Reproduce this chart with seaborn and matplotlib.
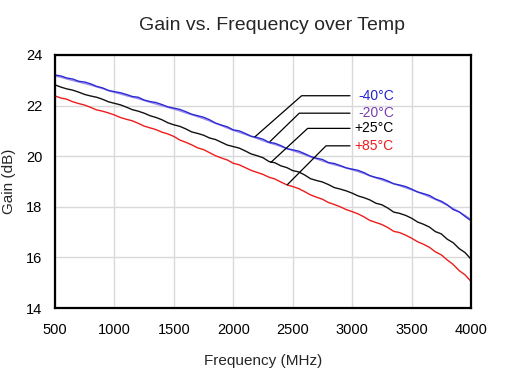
import numpy as np
import pandas as pd
import matplotlib
matplotlib.use("Agg")
import matplotlib.pyplot as plt
import seaborn as sns

freq = [500, 550, 600, 650, 700, 750, 800, 850, 900, 950,
        1000, 1050, 1100, 1150, 1200, 1250, 1300, 1350, 1400, 1450,
        1500, 1550, 1600, 1650, 1700, 1750, 1800, 1850, 1900, 1950,
        2000, 2050, 2100, 2150, 2200, 2250, 2300, 2350, 2400, 2450,
        2500, 2550, 2600, 2650, 2700, 2750, 2800, 2850, 2900, 2950,
        3000, 3050, 3100, 3150, 3200, 3250, 3300, 3350, 3400, 3450,
        3500, 3550, 3600, 3650, 3700, 3750, 3800, 3850, 3900, 3950, 4000]

gain_m40 = [23.21, 23.17, 23.09, 23.05, 22.96, 22.93, 22.86, 22.76, 22.70, 22.60,
            22.55, 22.51, 22.44, 22.36, 22.33, 22.22, 22.16, 22.12, 22.04, 21.95,
            21.90, 21.85, 21.76, 21.66, 21.60, 21.54, 21.44, 21.31, 21.23, 21.16,
            21.04, 21.00, 20.90, 20.79, 20.74, 20.67, 20.55, 20.51, 20.42, 20.30,
            20.25, 20.20, 20.10, 19.99, 19.92, 19.87, 19.75, 19.71, 19.63, 19.54,
            19.49, 19.44, 19.35, 19.23, 19.16, 19.11, 19.02, 18.91, 18.86, 18.80,
            18.70, 18.59, 18.52, 18.45, 18.31, 18.22, 18.08, 17.89, 17.80, 17.62, 17.45]
gain_m20 = [23.17, 23.12, 23.05, 22.99, 22.93, 22.87, 22.81, 22.74, 22.67, 22.59,
            22.52, 22.46, 22.39, 22.33, 22.27, 22.20, 22.13, 22.06, 21.99, 21.93,
            21.86, 21.79, 21.71, 21.64, 21.56, 21.48, 21.39, 21.30, 21.21, 21.11,
            21.02, 20.94, 20.86, 20.78, 20.70, 20.61, 20.53, 20.46, 20.38, 20.30,
            20.22, 20.14, 20.06, 19.97, 19.89, 19.81, 19.73, 19.66, 19.60, 19.53,
            19.46, 19.39, 19.31, 19.22, 19.14, 19.06, 18.98, 18.91, 18.83, 18.75,
            18.67, 18.58, 18.49, 18.39, 18.29, 18.18, 18.06, 17.94, 17.80, 17.66, 17.50]
gain_p25 = [22.82, 22.73, 22.66, 22.61, 22.53, 22.44, 22.38, 22.33, 22.25, 22.15,
            22.09, 22.03, 21.94, 21.84, 21.78, 21.70, 21.60, 21.53, 21.44, 21.32,
            21.24, 21.18, 21.08, 20.96, 20.90, 20.83, 20.72, 20.66, 20.55, 20.44,
            20.38, 20.32, 20.21, 20.09, 20.02, 19.94, 19.79, 19.74, 19.62, 19.55,
            19.43, 19.38, 19.26, 19.11, 19.04, 18.98, 18.88, 18.76, 18.70, 18.63,
            18.54, 18.43, 18.36, 18.27, 18.14, 18.08, 17.95, 17.79, 17.74, 17.66,
            17.55, 17.40, 17.31, 17.20, 17.02, 16.93, 16.72, 16.58, 16.35, 16.19, 15.93]
gain_p85 = [22.38, 22.30, 22.25, 22.15, 22.08, 22.02, 21.93, 21.83, 21.78, 21.71,
            21.63, 21.53, 21.46, 21.40, 21.30, 21.19, 21.12, 21.05, 20.95, 20.88,
            20.78, 20.64, 20.55, 20.45, 20.33, 20.26, 20.14, 20.02, 19.93, 19.85,
            19.72, 19.66, 19.55, 19.44, 19.36, 19.28, 19.17, 19.10, 18.98, 18.87,
            18.80, 18.72, 18.60, 18.47, 18.38, 18.30, 18.17, 18.09, 18.00, 17.89,
            17.81, 17.72, 17.60, 17.46, 17.38, 17.30, 17.18, 17.03, 16.98, 16.88,
            16.76, 16.62, 16.52, 16.40, 16.22, 16.10, 15.90, 15.72, 15.48, 15.31, 15.05]

temps = ["-40°C", "-20°C", "+25°C", "+85°C"]
x_ticks = [500, 1000, 1500, 2000, 2500, 3000, 3500, 4000]
y_ticks = [14, 16, 18, 20, 22, 24]

# annotation anchor points (curve point, elbow, label) in data units
ann_curve_x = [2183, 2309, 2315, 2454]
ann_curve_y = [20.77, 20.58, 19.75, 18.87]
ann_elbow_x = [2575, 2555, 2626, 2780]
ann_label_y = [22.39, 21.70, 21.10, 20.41]

line_colors = {"-40°C": "#2a2ad6", "-20°C": "#a08ce6", "+25°C": "#111111", "+85°C": "#ee1c1c"}
text_colors = {"-40°C": "#2323d0", "-20°C": "#7a3fb5", "+25°C": "#000000", "+85°C": "#ee1c1c"}

df = pd.concat([
    pd.DataFrame({"Frequency": freq, "Gain": g, "Temp": t})
    for t, g in zip(temps, [gain_m40, gain_m20, gain_p25, gain_p85])
], ignore_index=True)

sns.set_style("white")
plt.rcParams["font.family"] = ["Liberation Sans", "DejaVu Sans"]

fig = plt.figure(figsize=(5.14, 3.85), dpi=100)
ax = fig.add_axes([55 / 514, 1 - 308 / 385, 416 / 514, 253 / 385])

sns.lineplot(data=df, x="Frequency", y="Gain", hue="Temp",
             hue_order=["-20°C", "-40°C", "+25°C", "+85°C"],
             palette=line_colors, linewidth=1.0, legend=False, ax=ax,
             estimator=None, sort=False)

ax.set_xlim(500, 4000)
ax.set_ylim(14, 24)
ax.set_xticks(x_ticks)
ax.set_yticks(y_ticks)
ax.set_xticklabels([str(v) for v in x_ticks])
ax.set_yticklabels([str(v) for v in y_ticks])
ax.grid(True, color="#d9d9d9", linewidth=1.0)
ax.set_axisbelow(True)
for s in ax.spines.values():
    s.set_color("black")
    s.set_linewidth(1.6)
ax.tick_params(axis="both", length=0, labelsize=10.5, colors="black")
ax.tick_params(axis="x", pad=11)
ax.tick_params(axis="y", pad=9)
ax.set_xlabel("Frequency (MHz)", fontsize=11, labelpad=12)
ax.set_ylabel("Gain (dB)", fontsize=11, labelpad=7)

fig.text(272 / 514, 1 - 30 / 385, "Gain vs. Frequency over Temp",
         ha="center", va="baseline", fontsize=14)

label_x_end = 2982
for i, t in enumerate(temps):
    ax.plot([ann_curve_x[i], ann_elbow_x[i], label_x_end],
            [ann_curve_y[i], ann_label_y[i], ann_label_y[i]],
            color="black", linewidth=0.9)
    ax.text(3352, ann_label_y[i], t, color=text_colors[t], fontsize=10,
            ha="right", va="center")

fig.savefig("out.png", dpi=100)
